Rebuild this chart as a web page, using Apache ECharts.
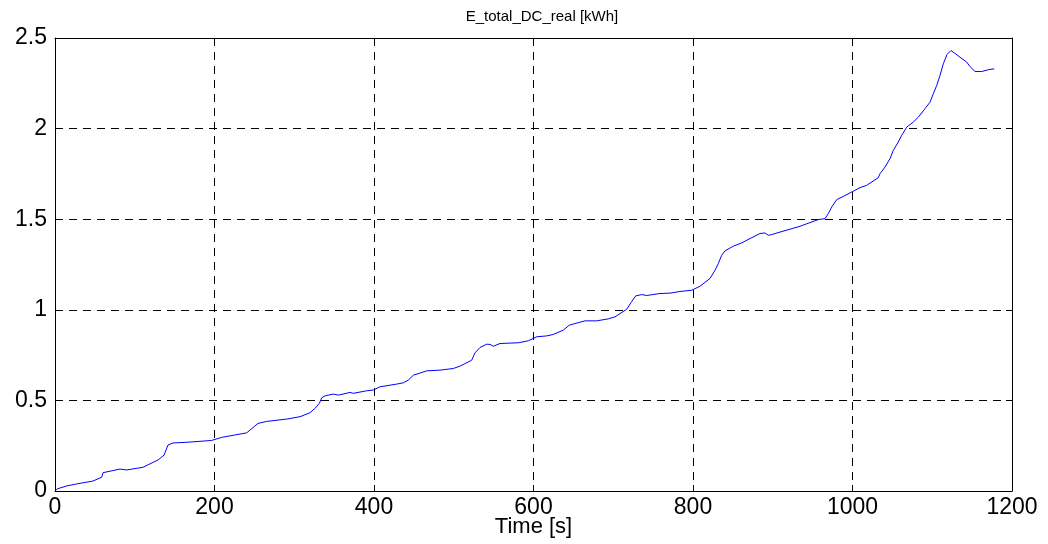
<!DOCTYPE html>
<html>
<head>
<meta charset="utf-8">
<title>E_total_DC_real [kWh]</title>
<script src="https://cdn.jsdelivr.net/npm/echarts@6/dist/echarts.min.js"></script>
<style>
  html, body { margin: 0; padding: 0; background: #ffffff; }
  #chart { width: 1048px; height: 544px; }
</style>
</head>
<body>
<div id="chart"></div>
<script>
// Cumulative DC energy over the run
const timeS = [
  0, 3, 14.7, 27.2, 47.6, 58.6, 60.2, 81.5, 89.9, 110.3, 129.2, 136.7, 141.7, 148,
  169.3, 196.5, 209, 240.4, 254.5, 265.5, 290.5, 307.2, 319.7, 326, 331.4, 334.4,
  338.6, 349, 355.2, 369.9, 374, 390.8, 399.1, 407.5, 428.5, 436.7, 443, 449.3,
  451.4, 466.1, 482.8, 499.4, 507.8, 522.5, 526.6, 532.9, 541.3, 545.5, 549.6,
  558, 581, 593.5, 604, 616.6, 624.8, 637.4, 644.9, 652, 664.6, 679.2, 693.8,
  702.2, 716.9, 722.3, 728.2, 735.7, 742, 758.6, 771.2, 783.7, 798.4, 808.8,
  821.3, 827.6, 831.7, 836, 840.1, 850.5, 861, 871.5, 884, 890.3, 894.4, 898.7,
  909.1, 934.2, 957.1, 965.5, 969.7, 973.9, 980.2, 988.5, 999, 1009.4, 1017.8,
  1032.3, 1034.5, 1040.8, 1047, 1051.2, 1057.4, 1061.7, 1068, 1076.2, 1082.5,
  1090.9, 1097.2, 1101.3, 1105.6, 1109.7, 1113.9, 1118.5, 1123.5, 1128.5,
  1134.8, 1143.2, 1147.3, 1153.6, 1162, 1170.3, 1177.8
];
const energyKWh = [
  0, 0.012, 0.028, 0.039, 0.055, 0.076, 0.101, 0.121, 0.116, 0.131, 0.171, 0.198, 0.254, 0.265,
  0.270, 0.279, 0.296, 0.321, 0.373, 0.384, 0.397, 0.410, 0.432, 0.456, 0.483, 0.514,
  0.525, 0.535, 0.529, 0.544, 0.539, 0.553, 0.557, 0.575, 0.590, 0.597, 0.612, 0.639,
  0.649, 0.663, 0.667, 0.676, 0.689, 0.722, 0.762, 0.792, 0.810, 0.809, 0.799,
  0.814, 0.818, 0.829, 0.851, 0.856, 0.864, 0.888, 0.915, 0.924, 0.939, 0.939, 0.950,
  0.961, 1.003, 1.040, 1.077, 1.084, 1.079, 1.090, 1.092, 1.101, 1.108, 1.130,
  1.173, 1.218, 1.255, 1.301, 1.325, 1.351, 1.369, 1.393, 1.421, 1.424, 1.411, 1.415,
  1.429, 1.461, 1.498, 1.503, 1.531, 1.567, 1.608, 1.626, 1.650, 1.674, 1.687,
  1.729, 1.751, 1.788, 1.834, 1.880, 1.926, 1.963, 2.008, 2.036, 2.063,
  2.110, 2.146, 2.192, 2.238, 2.293, 2.358, 2.409, 2.431, 2.415,
  2.394, 2.367, 2.343, 2.315, 2.315, 2.325, 2.330
];
const xTicks = { min: 0, max: 1200, step: 200 };
const yTicks = { min: 0, max: 2.5, step: 0.5 };
const titleText = 'E_total_DC_real [kWh]';
const xName = 'Time [s]';

const points = timeS.map((t, i) => [t, energyKWh[i]]);
const fontFamily = '"Liberation Sans", Arial, Helvetica, sans-serif';
const labelSize = 23;

const dashed = { show: true, lineStyle: { color: '#000000', width: 1, type: [8, 6] } };
const solidAxis = { show: true, onZero: false, lineStyle: { color: '#000000', width: 1 } };
const tickIn = { show: true, inside: true, length: 6, lineStyle: { color: '#000000' } };

const chart = echarts.init(document.getElementById('chart'), null, { renderer: 'canvas' });
chart.setOption({
  backgroundColor: '#ffffff',
  animation: false,
  title: {
    text: titleText,
    left: 537,
    textAlign: 'center',
    top: 4,
    textStyle: { fontFamily, fontSize: 15, fontWeight: 'normal', color: '#000000' }
  },
  grid: {
    left: 55, right: 36, top: 38, bottom: 53,
    containLabel: false,
    outerBoundsMode: 'none'
  },
  xAxis: [
    {
      type: 'value',
      min: xTicks.min, max: xTicks.max, interval: xTicks.step,
      name: xName,
      nameLocation: 'middle',
      nameGap: 25,
      nameMoveOverlap: false,
      nameTextStyle: { fontFamily, fontSize: 22, color: '#000000' },
      axisLine: solidAxis,
      axisTick: tickIn,
      axisLabel: {
        fontFamily, fontSize: labelSize, color: '#000000', margin: 5,
        formatter: v => String(v)
      },
      splitLine: dashed
    },
    {
      type: 'value', position: 'top',
      min: xTicks.min, max: xTicks.max, interval: xTicks.step,
      axisLine: solidAxis,
      axisTick: tickIn,
      axisLabel: { show: false },
      splitLine: { show: false }
    }
  ],
  yAxis: [
    {
      type: 'value',
      min: yTicks.min, max: yTicks.max, interval: yTicks.step,
      axisLine: solidAxis,
      axisTick: tickIn,
      axisLabel: {
        fontFamily, fontSize: labelSize, color: '#000000', margin: 8,
        formatter: v => String(v)
      },
      splitLine: dashed
    },
    {
      type: 'value', position: 'right',
      min: yTicks.min, max: yTicks.max, interval: yTicks.step,
      axisLine: solidAxis,
      axisTick: tickIn,
      axisLabel: { show: false },
      splitLine: { show: false }
    }
  ],
  series: [
    {
      type: 'line',
      data: points,
      xAxisIndex: 0,
      yAxisIndex: 0,
      showSymbol: false,
      symbol: 'none',
      lineStyle: { color: '#0000ff', width: 1 },
      z: 5
    }
  ]
});
</script>
</body>
</html>
